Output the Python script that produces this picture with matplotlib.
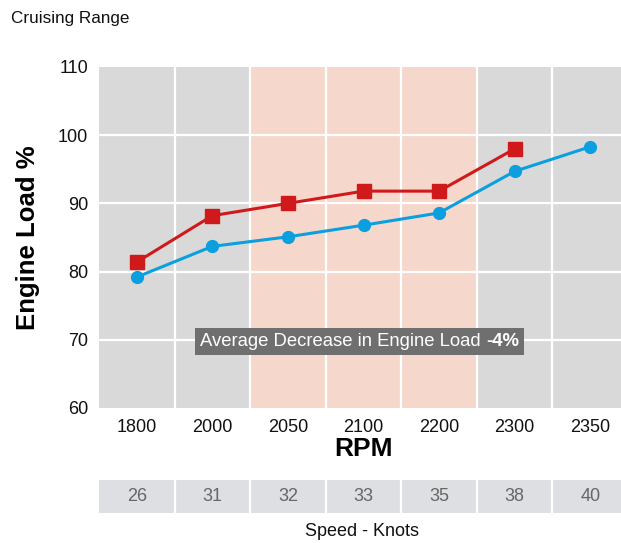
import matplotlib
matplotlib.use("Agg")
import matplotlib.pyplot as plt
from matplotlib.offsetbox import TextArea, HPacker, AnnotationBbox

plt.rcParams['font.family'] = ['Liberation Sans', 'DejaVu Sans']

# engine load at each rpm step (red = before, blue = after)
rpm = ['1800', '2000', '2050', '2100', '2200', '2300', '2350']
knots = ['26', '31', '32', '33', '35', '38', '40']
load_before = [81.4, 88.2, 90.0, 91.8, 91.8, 98.0]
load_after = [79.2, 83.7, 85.1, 86.8, 88.6, 94.7, 98.3]
y_ticks = [60, 70, 80, 90, 100, 110]
band = ['2050', '2200']  # cruising band shaded in pink

W, H = 621, 543
fig = plt.figure(figsize=(W / 100, H / 100), dpi=100)
fig.patch.set_facecolor('white')

def px_axes(x0, y0, x1, y1):
    return fig.add_axes([x0 / W, 1 - y1 / H, (x1 - x0) / W, (y1 - y0) / H])

ax = px_axes(99, 67, 628, 408)
ax.set_facecolor('#d9d9d9')
n = len(rpm)
ax.set_xlim(-0.5, n - 0.5)
ax.set_ylim(y_ticks[0], y_ticks[-1])

# shaded band
i0, i1 = rpm.index(band[0]), rpm.index(band[1])
ax.axvspan(i0 - 0.5, i1 + 0.5, color='#f6d7cb', zorder=0)

# white grid
for y in y_ticks[1:-1]:
    ax.axhline(y, color='white', lw=1.6, zorder=1)
for k in range(1, n):
    ax.axvline(k - 0.5, color='white', lw=1.6, zorder=1)

xs = list(range(n))
ax.plot(xs[:len(load_before)], load_before, color='#d0191b', lw=2.2,
        marker='s', markersize=10, zorder=3)
ax.plot(xs, load_after, color='#0aa0e0', lw=2.2,
        marker='o', markersize=8.5, zorder=3)

for s in ax.spines.values():
    s.set_visible(False)
ax.set_xticks(xs)
ax.set_xticklabels(rpm, fontsize=13)
ax.set_yticks(y_ticks)
ax.set_yticklabels([str(v) for v in y_ticks], fontsize=13)
ax.tick_params(length=0, pad=8, colors='#111111')
ax.set_xlabel('RPM', fontsize=19, fontweight='bold', labelpad=1)
ax.set_ylabel('Engine Load %', fontsize=18.5, fontweight='bold', labelpad=13)

# average decrease label
txt = HPacker(children=[
    TextArea('Average Decrease in Engine Load ',
             textprops=dict(color='white', fontsize=13.3)),
    TextArea('-4%', textprops=dict(color='white', fontsize=13.3, fontweight='bold')),
], align='baseline', pad=0, sep=0)
ab = AnnotationBbox(txt, (3 - 0.05, 69.8), xycoords='data', frameon=True,
                    pad=0.35, zorder=5,
                    bboxprops=dict(facecolor='#6f6f6f', edgecolor='none',
                                   boxstyle='square,pad=0.35'))
ax.add_artist(ab)

# speed row
ax2 = px_axes(99, 480, 628, 513)
ax2.set_facecolor('#dedfe2')
ax2.set_xlim(-0.5, n - 0.5)
ax2.set_ylim(0, 1)
for k in range(1, n):
    ax2.axvline(k - 0.5, color='white', lw=1.6)
for k, kn in enumerate(knots):
    ax2.text(k, 0.5, kn, ha='center', va='center', fontsize=13, color='#666666')
ax2.set_xticks([])
ax2.set_yticks([])
for s in ax2.spines.values():
    s.set_visible(False)

fig.text(362 / W, 1 - 531 / H, 'Speed - Knots', ha='center', va='center',
         fontsize=13, color='#111111')
fig.text(11 / W, 1 - 18 / H, 'Cruising Range', ha='left', va='center',
         fontsize=12.3, color='#111111')

fig.savefig('out.png', dpi=100)
